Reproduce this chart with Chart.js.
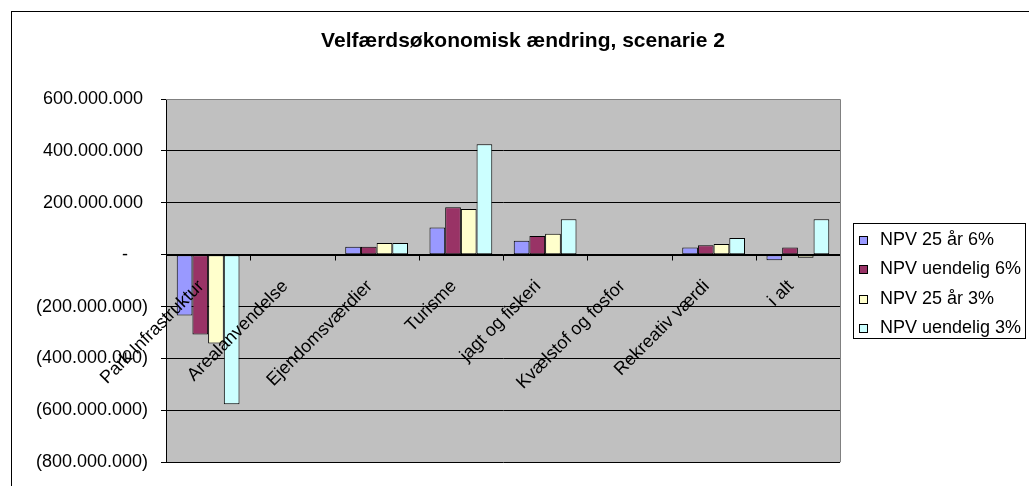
<!DOCTYPE html>
<html>
<head>
<meta charset="utf-8">
<title>Velfærdsøkonomisk ændring, scenarie 2</title>
<script src="https://cdn.jsdelivr.net/npm/chart.js@4/dist/chart.umd.min.js"></script>
<style>
  html, body { margin: 0; padding: 0; background: #fff; }
  canvas { display: block; }
</style>
</head>
<body>
<canvas id="chart" width="1029" height="486"></canvas>
<script>
// Velfærdsøkonomisk ændring, scenarie 2 — grouped bars (Chart.js)
const title = 'Velfærdsøkonomisk ændring, scenarie 2';
const categories = [
  'Park Infrastruktur', 'Arealanvendelse', 'Ejendomsværdier', 'Turisme',
  'jagt og fiskeri', 'Kvælstof og fosfor', 'Rekreativ værdi', 'i alt'
];
const seriesLabels = ['NPV 25 år 6%', 'NPV uendelig 6%', 'NPV 25 år 3%', 'NPV uendelig 3%'];
const npv25_6 = [-235e6, 0, 30e6, 105e6, 54e6, 0, 28e6, -22e6];
const npvInf_6 = [-308e6, 0, 30e6, 183e6, 72e6, 0, 36e6, 28e6];
const npv25_3 = [-342e6, 0, 45e6, 176e6, 81e6, 0, 41e6, -12e6];
const npvInf_3 = [-577e6, 0, 45e6, 426e6, 136e6, 0, 64e6, 136e6];
const yMin = -800e6;
const yMax = 600e6;
const yStep = 200e6;

const colors = ['#9999FF', '#993366', '#FFFFCC', '#CCFFFF'];
const FONT = '"Liberation Sans", Arial, sans-serif';

// Danish accounting style: 1.000.000, "-" for zero, (x) for negatives
function fmt(v) {
  if (v === 0) return '-    ';
  const s = Math.abs(v).toFixed(0).replace(/\B(?=(\d{3})+(?!\d))/g, '.');
  return v < 0 ? '(' + s + ')' : s + ' ';
}

const excelLook = {
  id: 'excelLook',
  beforeDraw(chart) {
    const { ctx, chartArea: a } = chart;
    ctx.save();
    ctx.fillStyle = '#fff';
    ctx.fillRect(0, 0, chart.width, chart.height);
    ctx.fillStyle = '#C0C0C0';
    ctx.fillRect(a.left, a.top, a.right - a.left, a.bottom - a.top);
    ctx.restore();
  },
  afterDatasetsDraw(chart) {
    const { ctx, chartArea: a } = chart;
    const x = chart.scales.x;
    const y = chart.scales.y;
    const y0 = Math.round(y.getPixelForValue(0)) + 0.5;
    ctx.save();
    // category axis on the zero line
    ctx.strokeStyle = '#000';
    ctx.lineWidth = 1;
    ctx.beginPath();
    ctx.moveTo(a.left, y0);
    ctx.lineTo(a.right, y0);
    const half = (x.getPixelForValue(1) - x.getPixelForValue(0)) / 2;
    for (let i = 0; i < categories.length; i++) {
      const bx = Math.round(x.getPixelForValue(i) + half) + 0.5;
      ctx.moveTo(bx, y0);
      ctx.lineTo(bx, y0 + 5);
    }
    ctx.stroke();
    // rotated category labels
    ctx.fillStyle = '#000';
    ctx.font = '18px ' + FONT;
    ctx.textAlign = 'right';
    ctx.textBaseline = 'middle';
    categories.forEach((c, i) => {
      ctx.save();
      ctx.translate(x.getPixelForValue(i) - 7, y0 + 28);
      ctx.rotate(-Math.PI / 4);
      ctx.fillText(c, 0, 0);
      ctx.restore();
    });
    ctx.restore();
  },
  afterDraw(chart) {
    const { ctx, chartArea: a } = chart;
    ctx.save();
    // plot frame (top/right)
    ctx.strokeStyle = '#808080';
    ctx.lineWidth = 1;
    ctx.beginPath();
    ctx.moveTo(a.left, a.top + 0.5);
    ctx.lineTo(a.right + 0.5, a.top + 0.5);
    ctx.lineTo(a.right + 0.5, a.bottom);
    ctx.stroke();
    // chart border
    ctx.strokeStyle = '#000';
    ctx.strokeRect(11.5, 11.5, 1100, 600);
    // title
    ctx.fillStyle = '#000';
    ctx.font = 'bold 21px ' + FONT;
    ctx.textAlign = 'center';
    ctx.textBaseline = 'alphabetic';
    ctx.fillText(title, 523, 47);
    // legend
    ctx.strokeRect(853.5, 223.5, 172, 115);
    ctx.font = '18px ' + FONT;
    ctx.textAlign = 'left';
    ctx.textBaseline = 'middle';
    seriesLabels.forEach((lbl, i) => {
      const cy = 240 + i * 29.3;
      ctx.fillStyle = colors[i];
      ctx.fillRect(859.5, Math.round(cy - 4) + 0.5, 8, 8);
      ctx.strokeRect(859.5, Math.round(cy - 4) + 0.5, 8, 8);
      ctx.fillStyle = '#000';
      ctx.fillText(lbl, 880, cy);
    });
    ctx.restore();
  }
};

const seriesData = [npv25_6, npvInf_6, npv25_3, npvInf_3];

new Chart(document.getElementById('chart').getContext('2d'), {
  type: 'bar',
  data: {
    labels: categories,
    datasets: seriesData.map((d, i) => ({
      label: seriesLabels[i],
      data: d,
      backgroundColor: colors[i],
      borderColor: '#000',
      borderWidth: 1,
      borderSkipped: false,
      categoryPercentage: 0.745,
      barPercentage: 1
    }))
  },
  options: {
    responsive: false,
    devicePixelRatio: 1,
    animation: false,
    layout: { padding: { left: 0, top: 99, right: 189, bottom: 22 } },
    plugins: {
      legend: { display: false },
      title: { display: false },
      tooltip: { enabled: false }
    },
    scales: {
      x: { display: false },
      y: {
        min: yMin,
        max: yMax,
        afterFit: (s) => { s.width = 166; },
        border: { color: '#000', width: 1 },
        grid: {
          color: (c) => (c.tick && c.tick.value === yMax ? '#808080' : '#000'),
          lineWidth: 1,
          tickLength: 5,
          tickColor: '#000'
        },
        ticks: {
          stepSize: yStep,
          padding: 13,
          color: '#000',
          font: { family: FONT, size: 18 },
          callback: (v) => fmt(v)
        }
      }
    }
  },
  plugins: [excelLook]
});
</script>
</body>
</html>
